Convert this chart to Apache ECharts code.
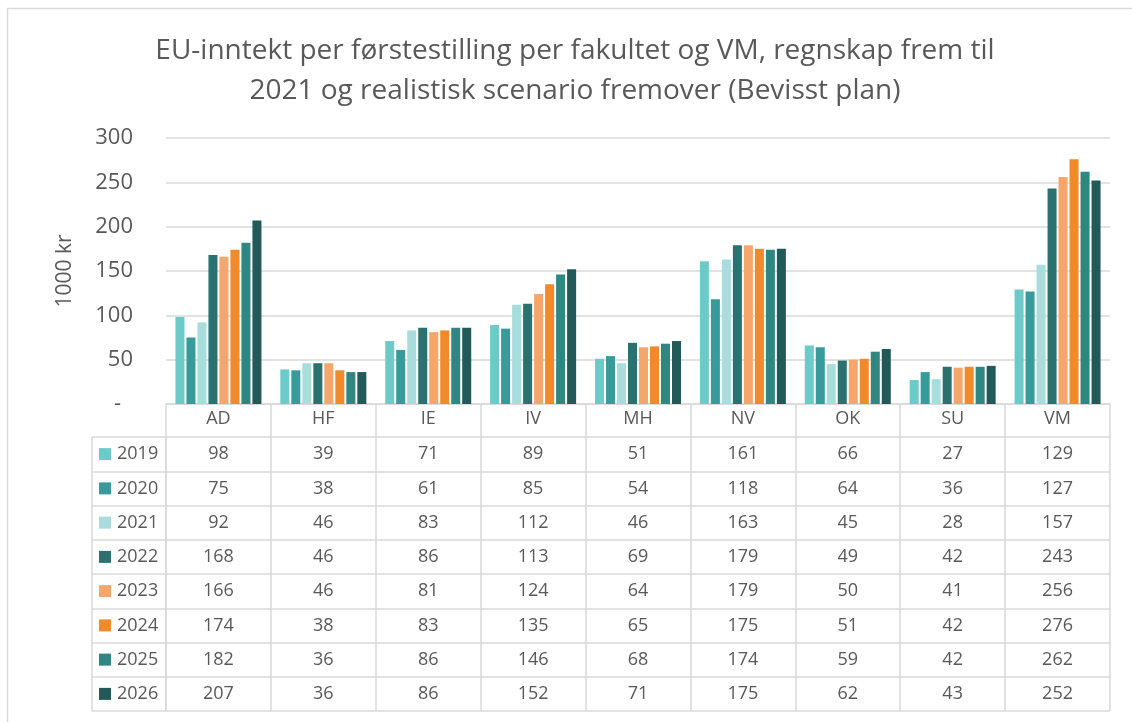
<!DOCTYPE html>
<html>
<head>
<meta charset="utf-8">
<script src="https://cdn.jsdelivr.net/npm/echarts@6/dist/echarts.min.js"></script>
<style>
html,body{margin:0;padding:0;background:#fff;}
#c{width:1132px;height:722px;}
</style>
</head>
<body>
<div id="c"></div>
<script>
const categories = ['AD','HF','IE','IV','MH','NV','OK','SU','VM'];
const years = ['2019','2020','2021','2022','2023','2024','2025','2026'];
const v2019 = [98,39,71,89,51,161,66,27,129];
const v2020 = [75,38,61,85,54,118,64,36,127];
const v2021 = [92,46,83,112,46,163,45,28,157];
const v2022 = [168,46,86,113,69,179,49,42,243];
const v2023 = [166,46,81,124,64,179,50,41,256];
const v2024 = [174,38,83,135,65,175,51,42,276];
const v2025 = [182,36,86,146,68,174,59,42,262];
const v2026 = [207,36,86,152,71,175,62,43,252];
const yTicks = [0,50,100,150,200,250,300];
const colors = ['#6ccac8','#379b9b','#a9dddd','#2a7170','#f4a66b','#f08a2a','#2f8782','#215a59'];

const seriesValues = [v2019,v2020,v2021,v2022,v2023,v2024,v2025,v2026];
const FONT = '"Open Sans", "Noto Sans", sans-serif';
const TXT = '#595959';
const LINE = '#d9d9d9';

const tableData = [];
seriesValues.forEach((arr, i) => arr.forEach((v, j) => tableData.push([j, i, v])));

const rich = { t: { fontSize: 18, color: TXT, fontFamily: FONT, padding: [0,0,0,6] } };
colors.forEach((c, i) => { rich['s' + i] = { width: 12, height: 12, backgroundColor: c }; });

const chart = echarts.init(document.getElementById('c'), null, { renderer: 'canvas' });
chart.setOption({
  backgroundColor: '#fff',
  animation: false,
  textStyle: { fontFamily: FONT },
  title: {
    text: 'EU-inntekt per førstestilling per fakultet og VM, regnskap frem til\n2021 og realistisk scenario fremover (Bevisst plan)',
    left: 570, top: 26, textAlign: 'center',
    textStyle: { fontSize: 28, fontWeight: 'normal', color: TXT, lineHeight: 40, fontFamily: FONT }
  },
  graphic: [{
    type: 'rect', shape: { x: 7.5, y: 8.5, width: 1200, height: 800 },
    style: { fill: 'none', stroke: LINE, lineWidth: 1.5 }, silent: true
  }],
  grid: [
    { left: 166, right: 22, top: 138, height: 266 },
    { left: 166, right: 22, top: 437, height: 274 },
    { left: 92, width: 74, top: 437, height: 274 }
  ],
  xAxis: [
    { gridIndex: 0, type: 'category', data: categories,
      axisLine: { show: true, lineStyle: { color: LINE, width: 1.5 } },
      axisTick: { show: true, length: 33, lineStyle: { color: LINE, width: 1.5 } },
      axisLabel: { fontSize: 18, color: TXT, margin: 6, fontFamily: FONT },
      splitLine: { show: false } },
    { gridIndex: 1, type: 'category', data: categories,
      axisLine: { show: false }, axisTick: { show: false }, axisLabel: { show: false },
      splitLine: { show: true, lineStyle: { color: LINE, width: 1.5 } } },
    { gridIndex: 2, type: 'category', data: [''],
      axisLine: { show: false }, axisTick: { show: false }, axisLabel: { show: false },
      splitLine: { show: true, lineStyle: { color: LINE, width: 1.5 } } }
  ],
  yAxis: [
    { gridIndex: 0, type: 'value', min: 0, max: 300, interval: 50,
      name: '1000 kr', nameLocation: 'middle', nameRotate: 90, nameGap: 90,
      nameTextStyle: { fontSize: 21, color: TXT, fontFamily: FONT },
      axisLine: { show: false }, axisTick: { show: false },
      axisLabel: { fontSize: 22, color: TXT, margin: 33, fontFamily: FONT,
        formatter: v => v === 0 ? '{d|-}' : String(v),
        rich: { d: { fontSize: 22, color: TXT, fontFamily: FONT, padding: [0, 12, 0, 0] } } },
      splitLine: { show: true, lineStyle: { color: LINE, width: 1.5 } } },
    { gridIndex: 1, type: 'category', data: years, inverse: true,
      axisLine: { show: false }, axisTick: { show: false }, axisLabel: { show: false },
      splitLine: { show: true, lineStyle: { color: LINE, width: 1.5 } } },
    { gridIndex: 2, type: 'category', data: years, inverse: true,
      axisLine: { show: false }, axisTick: { show: false },
      axisLabel: { show: true, inside: true, margin: 7,
        formatter: (v, i) => '{s' + i + '|}{t|' + v + '}', rich: rich },
      splitLine: { show: true, lineStyle: { color: LINE, width: 1.5 } } }
  ],
  series: seriesValues.map((arr, i) => ({
    name: years[i], type: 'bar', xAxisIndex: 0, yAxisIndex: 0,
    data: arr, itemStyle: { color: colors[i] },
    barCategoryGap: '18%', barGap: '22%'
  })).concat([{
    type: 'custom', xAxisIndex: 1, yAxisIndex: 1, data: tableData,
    renderItem: (params, api) => {
      const p = api.coord([api.value(0), api.value(1)]);
      return { type: 'text', x: p[0], y: p[1],
        style: { text: String(api.value(2)), fill: TXT, fontSize: 18, fontFamily: FONT,
                 align: 'center', verticalAlign: 'middle' } };
    }
  }])
});
</script>
</body>
</html>
